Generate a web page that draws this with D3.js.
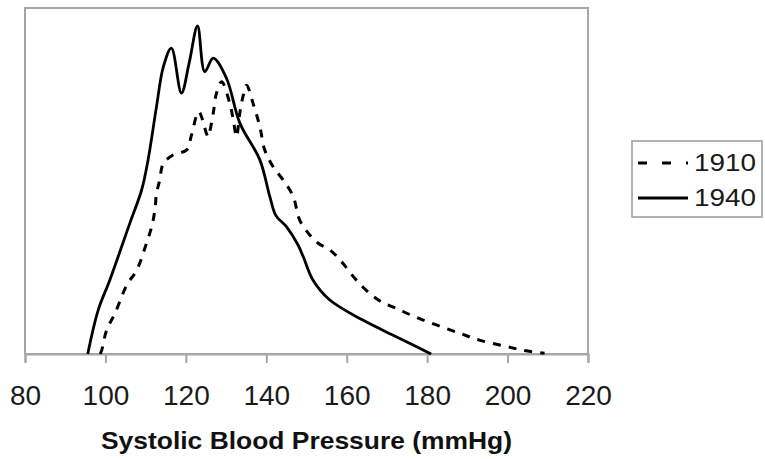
<!DOCTYPE html>
<html>
<head>
<meta charset="utf-8">
<script src="https://cdn.jsdelivr.net/npm/d3@7"></script>
<style>
  html, body { margin: 0; padding: 0; background: #fff; }
  svg { display: block; font-family: "Liberation Sans", Arial, sans-serif; }
</style>
</head>
<body>
<svg id="chart" width="765" height="459"></svg>
<script>
// systolic blood pressure (mmHg) vs relative frequency (arbitrary units, 0-100)
var bp1910 = [98.7, 99.1, 100.3, 102.4, 105.3, 107.8, 110.2, 111.5, 112.3, 112.7, 113.5, 114.4,
  116.8, 120.2, 121.4, 123.2, 125.1, 125.5, 126.8, 127.6, 128.9, 130.9, 131.8, 132.6, 133.4,
  134.2, 135.1, 136.7, 138.4, 139.6, 141.7, 144.2, 146.7, 148.3, 150.8, 152.9, 155.8, 158.7,
  162.0, 165.7, 168.6, 172.3, 176.9, 182.3, 188.1, 193.0, 199.3, 204.2, 209.2];
var freq1910 = [0, 1.2, 6.9, 11.8, 19.9, 24.3, 32.0, 36.8, 41.6, 46.4, 50.3, 55.1,
  57.5, 59.0, 63.3, 70.0, 63.8, 62.8, 69.6, 75.3, 78.7, 72.5, 67.6, 62.8, 69.5,
  74.4, 77.7, 72.5, 65.7, 59.0, 54.1, 50.3, 45.5, 38.7, 34.4, 32.0, 30.1, 26.7,
  21.9, 17.5, 15.1, 13.2, 10.8, 8.4, 6.0, 4.0, 2.3, 1.0, 0.2];

var bp1940 = [95.6, 98.2, 101.1, 106.1, 109.0, 110.6, 112.7, 114.4, 116.4, 118.9, 120.8,
  122.9, 124.7, 126.8, 130.1, 133.4, 138.4, 140.9, 142.4, 145.0, 147.9, 149.3, 151.6,
  155.8, 164.0, 172.3, 181.0];
var freq1940 = [0, 12.7, 21.4, 37.9, 47.4, 56.1, 71.5, 83.0, 88.4, 75.4, 84.0,
  94.8, 81.6, 85.5, 79.7, 66.8, 56.1, 45.4, 40.0, 36.8, 31.5, 27.8, 21.4,
  15.6, 9.8, 5.0, 0];

var xTicks = [80, 100, 120, 140, 160, 180, 200, 220];
var seriesNames = ['1910', '1940'];
var xTitle = 'Systolic Blood Pressure (mmHg)';

var svg = d3.select('#chart');
var L = 25, R = 588, T = 8, B = 354;

var x = d3.scaleLinear().domain([80, 220]).range([L, R]);
var y = d3.scaleLinear().domain([0, 100]).range([B, T]);

// plot area frame
svg.append('rect')
    .attr('x', L).attr('y', T)
    .attr('width', R - L).attr('height', B - T)
    .attr('fill', 'none')
    .attr('stroke', '#a6a6a6')
    .attr('stroke-width', 2);

var xAxis = svg.append('g')
    .attr('transform', 'translate(0,' + B + ')')
    .call(d3.axisBottom(x).tickValues(xTicks).tickSize(9).tickPadding(22).tickFormat(d3.format('d')));

xAxis.select('.domain').attr('stroke', '#a6a6a6').attr('stroke-width', 2);
xAxis.selectAll('.tick line').attr('stroke', '#a6a6a6').attr('stroke-width', 2);
xAxis.selectAll('.tick text')
    .attr('fill', '#1a1a1a')
    .style('font-size', '28px')
    .style('font-family', '"Liberation Sans", Arial, sans-serif');

svg.append('text')
    .attr('x', (L + R) / 2)
    .attr('y', 449)
    .attr('text-anchor', 'middle')
    .attr('textLength', 411)
    .attr('lengthAdjust', 'spacingAndGlyphs')
    .style('font-size', '24.5px')
    .style('font-weight', 'bold')
    .attr('fill', '#111')
    .text(xTitle);

var line = d3.line()
    .x(function (d) { return x(d[0]); })
    .y(function (d) { return y(d[1]); })
    .curve(d3.curveCatmullRom.alpha(0.5));

var pts1910 = bp1910.map(function (v, i) { return [v, freq1910[i]]; });
var pts1940 = bp1940.map(function (v, i) { return [v, freq1940[i]]; });

svg.append('path')
    .datum(pts1910)
    .attr('d', line)
    .attr('fill', 'none')
    .attr('stroke', '#000')
    .attr('stroke-width', 3)
    .attr('stroke-dasharray', '8,8');

svg.append('path')
    .datum(pts1940)
    .attr('d', line)
    .attr('fill', 'none')
    .attr('stroke', '#000')
    .attr('stroke-width', 2.8);

// legend
var lg = svg.append('g');
lg.append('rect')
    .attr('x', 632).attr('y', 141)
    .attr('width', 130).attr('height', 76)
    .attr('fill', '#fff')
    .attr('stroke', '#999')
    .attr('stroke-width', 1.5);

var rows = [
    { name: seriesNames[0], dash: '9,15', cy: 163 },
    { name: seriesNames[1], dash: null,   cy: 198 }
];
rows.forEach(function (r) {
    var ln = lg.append('line')
        .attr('x1', 638).attr('x2', 688)
        .attr('y1', r.cy).attr('y2', r.cy)
        .attr('stroke', '#000')
        .attr('stroke-width', 3);
    if (r.dash) ln.attr('stroke-dasharray', r.dash);
    lg.append('text')
        .attr('x', 694)
        .attr('y', r.cy + 8)
        .attr('textLength', 62)
        .attr('lengthAdjust', 'spacingAndGlyphs')
        .style('font-size', '24px')
        .attr('fill', '#1a1a1a')
        .text(r.name);
});
</script>
</body>
</html>
